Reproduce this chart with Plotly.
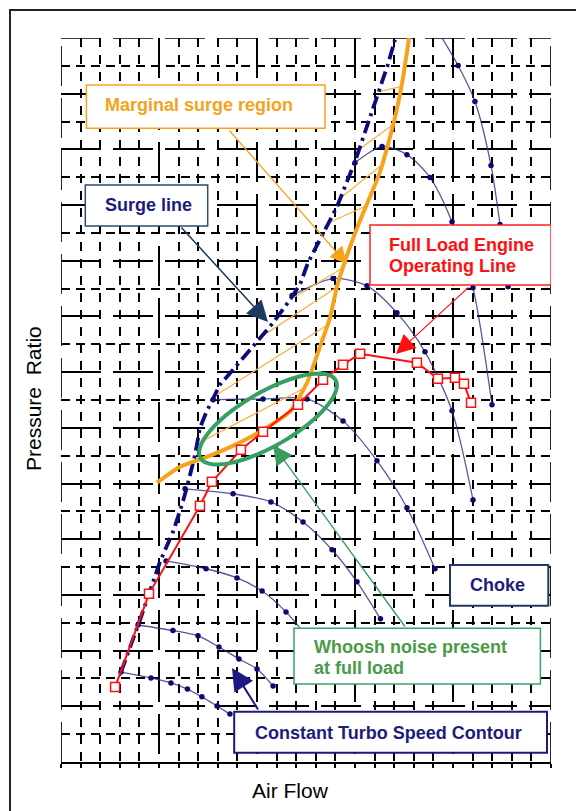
import math
import plotly.graph_objects as go

# ---------------- data (grid units: Air Flow 0-25, Pressure Ratio 0-26) ----------------
surge_x = [3.06, 4.03, 5.05, 5.71, 6.17, 6.43, 6.84, 7.09, 7.40, 8.11, 8.78, 9.54, 10.15,
           10.82, 11.68, 12.19, 12.60, 13.72, 14.08, 15.00, 15.51, 15.87, 16.28, 16.68, 17.04]
surge_y = [3.23, 5.10, 7.19, 8.26, 9.23, 9.88, 11.03, 12.00, 12.54, 13.55, 14.09, 14.73, 15.24,
           15.77, 16.60, 17.14, 17.93, 19.40, 19.94, 21.56, 22.60, 23.32, 24.22, 25.05, 25.94]

marginal_x = [4.90, 6.07, 7.45, 8.88, 10.15, 11.68, 12.55, 13.21, 13.72, 14.08, 14.64, 15.15,
              16.28, 17.04, 17.45, 17.76]
marginal_y = [10.03, 10.60, 10.96, 11.39, 11.86, 12.58, 13.62, 14.91, 15.95, 17.07, 18.29, 19.26,
              21.20, 23.14, 24.58, 26.02]

hatch_x0 = [7.24, 7.70, 10.15, 11.68, 13.78, 14.29, 15.20, 16.28]
hatch_y0 = [11.53, 13.08, 15.24, 16.60, 19.40, 20.27, 21.99, 24.08]
hatch_x1 = [12.45, 13.62, 14.03, 14.39, 15.66, 16.38, 16.94, 17.35]
hatch_y1 = [13.44, 15.70, 17.03, 17.75, 20.00, 21.45, 22.89, 24.25]

operating_x = [2.76, 4.49, 7.09, 7.70, 9.18, 10.31, 12.09, 13.37, 14.39, 15.26, 18.16, 19.23,
               20.10, 20.56, 20.92]
operating_y = [2.69, 6.04, 9.20, 10.06, 11.21, 11.86, 12.83, 13.73, 14.27, 14.66, 14.34, 13.76,
               13.80, 13.58, 12.90]

speed_1_x = [3.06, 4.59, 5.61, 6.45, 7.19, 7.96, 8.62]
speed_1_y = [3.23, 3.02, 2.84, 2.62, 2.34, 2.01, 1.72]
speed_2_x = [3.93, 5.71, 6.99, 8.06, 9.08, 10.00, 10.82]
speed_2_y = [4.92, 4.72, 4.53, 4.13, 3.70, 3.34, 2.73]
speed_3_x = [5.36, 7.40, 8.98, 10.26, 11.48, 12.60]
speed_3_y = [7.22, 6.94, 6.61, 6.14, 5.39, 4.46]
speed_4_x = [6.33, 8.78, 10.71, 12.35, 13.83, 15.10, 16.30]
speed_4_y = [9.81, 9.63, 9.34, 8.62, 7.62, 6.47, 5.14]
speed_5_x = [7.76, 10.31, 12.55, 14.39, 16.12, 17.65, 19.08]
speed_5_y = [13.01, 13.04, 13.04, 12.25, 10.82, 9.13, 6.94]
speed_6_x = [11.79, 13.88, 15.61, 17.14, 18.57, 19.95, 21.02]
speed_6_y = [16.75, 17.36, 17.10, 16.13, 14.73, 12.61, 9.41]
speed_7_x = [15.00, 16.38, 17.65, 18.83, 19.95, 21.02, 21.99]
speed_7_y = [21.52, 22.10, 21.81, 20.99, 19.40, 17.03, 12.83]
speed_8_x = [19.34, 20.26, 21.12, 21.94, 22.40, 22.81]
speed_8_y = [26.12, 25.01, 23.72, 21.42, 19.30, 17.07]

speed_x = [speed_1_x, speed_2_x, speed_3_x, speed_4_x, speed_5_x, speed_6_x, speed_7_x, speed_8_x]
speed_y = [speed_1_y, speed_2_y, speed_3_y, speed_4_y, speed_5_y, speed_6_y, speed_7_y, speed_8_y]

x_title = "Air Flow"
y_title = "Pressure\u00a0 Ratio"

# ---------------- layout helpers ----------------
W, H = 576, 811
ML, MR, MT, MB = 61, 25, 38, 49
XMAX, YMAX = 25, 26
PW, PH = W - ML - MR, H - MT - MB
SX, SY = PW / XMAX, PH / YMAX


def gx(px):
    return (px - ML) / SX


def gy(py):
    return (H - MB - py) / SY


FONT = "Liberation Sans, Arial, sans-serif"
NAVY = "#0c0c7e"
ORANGE = "#F7A21B"
RED = "#FF1010"
GREEN = "#35a062"
GRID = "#000000"

fig = go.Figure()

for sx, sy in zip(speed_x, speed_y):
    fig.add_trace(go.Scatter(
        x=sx, y=sy, mode="lines+markers",
        line=dict(color="rgba(45,45,130,0.8)", width=1.3, shape="spline", smoothing=0.8),
        marker=dict(color="#0a0a70", size=5.5),
        hoverinfo="skip", showlegend=False))

hx, hy = [], []
for a, b, c, d in zip(hatch_x0, hatch_y0, hatch_x1, hatch_y1):
    hx += [a, c, None]
    hy += [b, d, None]
fig.add_trace(go.Scatter(x=hx, y=hy, mode="lines",
                         line=dict(color="#F9B24A", width=1.3),
                         hoverinfo="skip", showlegend=False))

fig.add_trace(go.Scatter(x=surge_x, y=surge_y, mode="lines",
                         line=dict(color=NAVY, width=3.8, dash="13px,5px,3px,5px"),
                         hoverinfo="skip", showlegend=False))

fig.add_trace(go.Scatter(x=marginal_x, y=marginal_y, mode="lines",
                         line=dict(color=ORANGE, width=4, shape="spline", smoothing=0.6),
                         hoverinfo="skip", showlegend=False))

fig.add_trace(go.Scatter(x=operating_x, y=operating_y, mode="lines+markers",
                         line=dict(color=RED, width=2),
                         marker=dict(symbol="square", size=9, color="white",
                                     line=dict(color=RED, width=1.5)),
                         hoverinfo="skip", showlegend=False))

shapes = []

# plot-edge grid lines (left, top, right edges)
for x0, x1, y0, y1 in [(0, 0, 0, YMAX), (0, XMAX, YMAX, YMAX), (XMAX, XMAX, 0, YMAX)]:
    shapes.append(dict(type="line", xref="x", yref="y", x0=x0, x1=x1, y0=y0, y1=y1,
                       line=dict(color=GRID, width=1.7, dash="40px,12px"), layer="below"))

# green ellipse
ecx, ecy, ea, eb, eang = 268, 419, 78, 27, math.radians(30)
pts = []
for i in range(73):
    t = 2 * math.pi * i / 72
    dxp = ea * math.cos(t) * math.cos(eang) - eb * math.sin(t) * math.sin(eang)
    dyp = ea * math.cos(t) * math.sin(eang) + eb * math.sin(t) * math.cos(eang)
    pts.append((gx(ecx + dxp), gy(ecy - dyp)))
path = "M " + " L ".join(f"{x:.4f},{y:.4f}" for x, y in pts) + " Z"
shapes.append(dict(type="path", path=path, xref="x", yref="y",
                   line=dict(color=GREEN, width=4), layer="above"))

# callout boxes (pixel rectangles)
boxes = [
    ((86.4, 85, 325, 128.3), ORANGE, 1.5),
    ((85.3, 185, 207.7, 226), "#2B4C6F", 1.5),
    ((370, 225, 551, 285), "#FF2020", 1.5),
    ((450, 565, 548.3, 605.7), "#1F3864", 2),
    ((294, 628.3, 540.4, 684), "#3DA06A", 1.5),
    ((234.2, 711.7, 547, 752.7), "#1a1a80", 2),
]
for (x0, y0, x1, y1), col, w in boxes:
    shapes.append(dict(type="rect", xref="x", yref="y",
                       x0=gx(x0), x1=gx(x1), y0=gy(y1), y1=gy(y0),
                       line=dict(color=col, width=w), fillcolor="white", layer="above"))

# outer frame
shapes.append(dict(type="rect", xref="paper", yref="paper",
                   x0=(10 - ML) / PW, x1=1.3, y0=-0.3, y1=(H - MB - 10) / PH,
                   line=dict(color="#222", width=2), fillcolor="rgba(0,0,0,0)", layer="above"))

ann = []


def label(text, px, py, color, anchor="left"):
    ann.append(dict(text=f"<b>{text}</b>", x=gx(px), y=gy(py), xref="x", yref="y",
                    xanchor=anchor, yanchor="middle", showarrow=False,
                    font=dict(family=FONT, size=18, color=color)))


label("Marginal surge region", 103, 105, ORANGE)
label("Surge line", 103, 205, "#1c1c7c")
label("Full Load Engine", 387, 245, RED)
label("Operating Line", 387, 266, RED)
label("Choke", 497, 585, "#1c1c7c", anchor="center")
label("Whoosh noise present", 312, 647, "#4a9a48")
label("at full load", 312, 668, "#4a9a48")
label("Constant Turbo Speed Contour", 253, 733, "#1c1c7c")


def arrow(tail, tip, color, width, size):
    ann.append(dict(text="", x=gx(tip[0]), y=gy(tip[1]), xref="x", yref="y",
                    ax=gx(tail[0]), ay=gy(tail[1]), axref="x", ayref="y",
                    showarrow=True, arrowhead=2, arrowsize=size, arrowwidth=width,
                    arrowcolor=color, standoff=0, startstandoff=0))


arrow((228, 129), (347, 264), ORANGE, 1.3, 2.6)
arrow((180, 226), (268, 322), "#1F3A60", 1.5, 2.8)
arrow((470, 286), (396, 354), RED, 1.2, 3.2)
arrow((406, 628), (273, 445), "#3a9a5f", 1.3, 3.0)
arrow((259, 711), (232, 668), "#1a1a80", 2.0, 2.2)

ann.append(dict(text=x_title, x=(290.5 - ML) / PW, y=(H - MB - 790) / PH, xref="paper", yref="paper",
                xanchor="center", yanchor="middle", showarrow=False,
                font=dict(family=FONT, size=21, color="black")))
ann.append(dict(text=y_title, x=(33 - ML) / PW, y=(H - MB - 399) / PH, xref="paper", yref="paper",
                xanchor="center", yanchor="middle", showarrow=False, textangle=-90,
                font=dict(family=FONT, size=21, color="black")))

fig.update_layout(
    width=W, height=H, autosize=False,
    margin=dict(l=ML, r=MR, t=MT, b=MB),
    paper_bgcolor="white", plot_bgcolor="white",
    shapes=shapes, annotations=ann, showlegend=False,
    xaxis=dict(range=[0, XMAX], tick0=0, dtick=5, showticklabels=False,
               showgrid=True, gridcolor=GRID, gridwidth=1.7, griddash="40px,12px",
               zeroline=False, showline=True, linecolor=GRID, linewidth=1.8,
               ticks="outside", ticklen=4, tickcolor=GRID, tickwidth=1.5,
               minor=dict(dtick=1, showgrid=True, gridcolor=GRID, gridwidth=1.5,
                          griddash="9px,8px", ticks="outside", ticklen=4,
                          tickcolor=GRID, tickwidth=1.5)),
    yaxis=dict(range=[0, YMAX], tick0=0, dtick=2, showticklabels=False,
               showgrid=True, gridcolor=GRID, gridwidth=1.7, griddash="40px,12px",
               zeroline=False, showline=False, ticks="",
               minor=dict(dtick=1, showgrid=True, gridcolor=GRID, gridwidth=1.5,
                          griddash="9px,6px")),
)

fig.write_html("out.html", config={"displayModeBar": False},
               post_script="document.body.style.margin='0px';")
